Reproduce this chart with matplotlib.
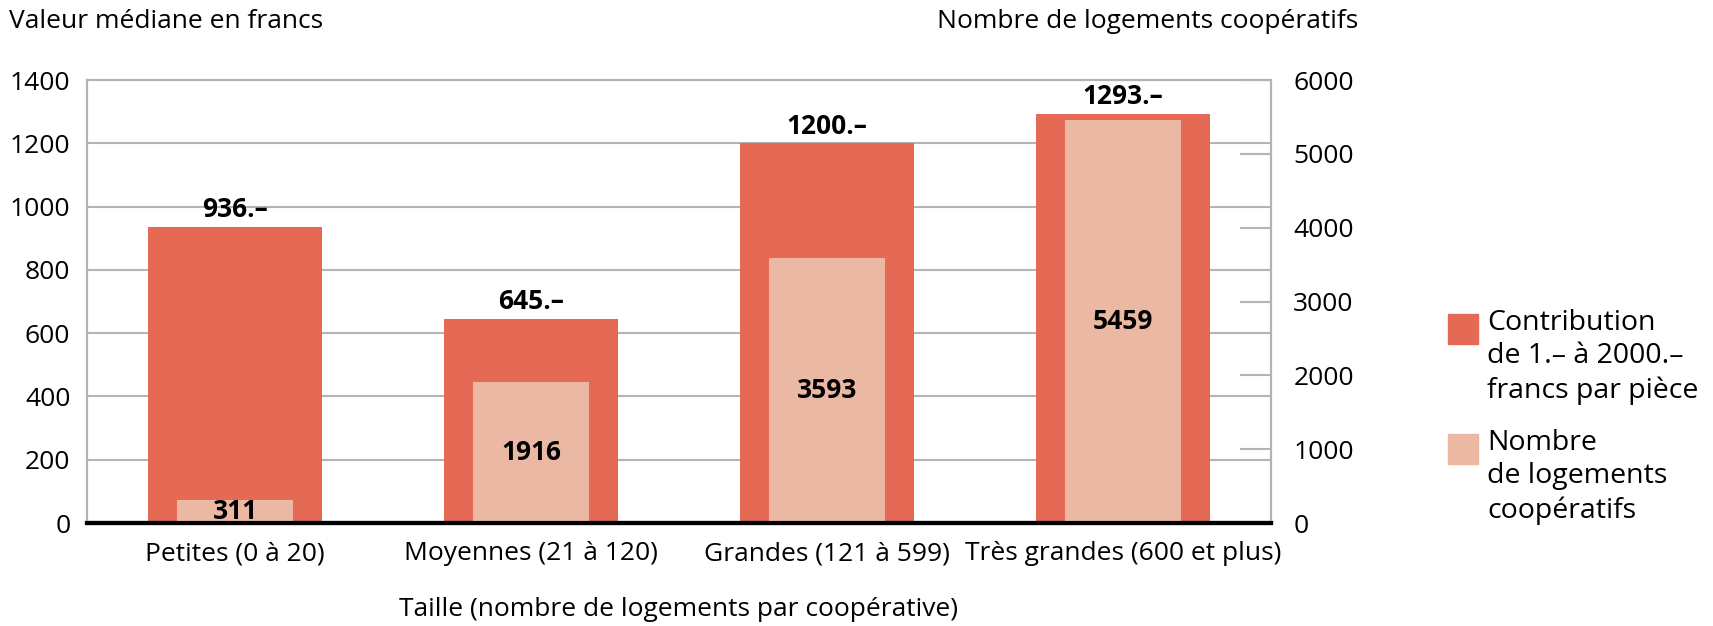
import numpy as np
import matplotlib
matplotlib.use("Agg")
import matplotlib.pyplot as plt
from matplotlib.patches import Rectangle

plt.rcParams['font.family'] = ['Open Sans', 'DejaVu Sans']

categories = ["Petites (0 à 20)", "Moyennes (21 à 120)",
              "Grandes (121 à 599)", "Très grandes (600 et plus)"]
median_value = [936, 645, 1200, 1293]          # left axis, francs
nb_logements = [311, 1916, 3593, 5459]         # right axis
legend_labels = ["Contribution\nde 1.– à 2000.–\nfrancs par pièce",
                 "Nombre\nde logements\ncoopératifs"]

c_outer = "#e46a56"
c_inner = "#ebb8a3"
c_grid = "#b4b4b4"
fs = 19

fig = plt.figure(figsize=(17.13, 6.26), dpi=100)
ax = fig.add_axes([0.0508, 0.1645, 0.742 - 0.0508, 0.872 - 0.1645])
ax2 = ax.twinx()

x = np.arange(len(categories))
ax.bar(x, median_value, width=0.59, color=c_outer, zorder=3)
ax2.bar(x, nb_logements, width=0.39, color=c_inner, zorder=3)

for xi, v in zip(x, median_value):
    ax.text(xi, v + 12, f"{v}.–", ha="center", va="bottom",
            fontsize=fs, fontweight="bold")
for xi, v in zip(x, nb_logements):
    ax2.text(xi, v / 2, str(v), ha="center", va="center",
             fontsize=fs, fontweight="bold")

ax.set_xlim(-0.5, 3.5)
ax.set_ylim(0, 1400)
ax2.set_ylim(0, 6000)
ax.set_yticks(np.arange(0, 1401, 200))
ax2.set_yticks(np.arange(0, 6001, 1000))
ax.set_xticks(x)
ax.set_xticklabels(categories, fontsize=fs)

ax.yaxis.grid(True, color=c_grid, lw=1.5, zorder=0)
ax.set_axisbelow(True)
ax.tick_params(axis="y", length=0, pad=12, labelsize=fs)
ax.tick_params(axis="x", length=0, pad=13)
ax2.tick_params(axis="y", direction="in", length=22, width=1.5,
                color=c_grid, pad=16, labelsize=fs)

for a in (ax, ax2):
    for s in ("left", "right", "top"):
        a.spines[s].set_color(c_grid)
        a.spines[s].set_linewidth(1.5)
    a.spines["bottom"].set_color("black")
    a.spines["bottom"].set_linewidth(3)
    a.spines["bottom"].set_zorder(4)

fig.text(0.005, 0.965, "Valeur médiane en francs", fontsize=fs,
         ha="left", va="center")
fig.text(0.793, 0.965, "Nombre de logements coopératifs", fontsize=fs,
         ha="right", va="center")
fig.text(0.396, 0.027, "Taille (nombre de logements par coopérative)",
         fontsize=fs, ha="center", va="center")

# legend, drawn by hand so the squares align with the first text line
leg_y = [0.499, 0.307]
for y, col, lab in zip(leg_y, [c_outer, c_inner], legend_labels):
    fig.patches.append(Rectangle((0.8455, y - 0.049), 0.0172, 0.049,
                                 color=col, transform=fig.transFigure))
    fig.text(0.868, y + 0.008, lab, fontsize=20.5, ha="left", va="top",
             linespacing=1.27)

fig.savefig("out.png", dpi=100)
